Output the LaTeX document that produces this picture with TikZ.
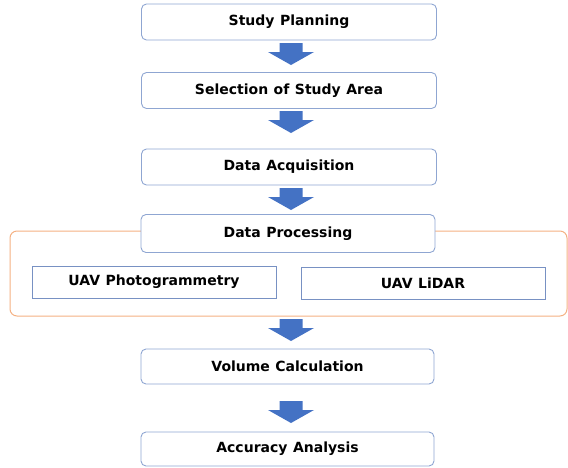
\documentclass[tikz,border=0pt]{standalone}
\usepackage{fontspec}
\setmainfont{DejaVu Sans}
\definecolor{boxline}{RGB}{143,166,210}
\definecolor{subline}{RGB}{120,145,195}
\definecolor{orangeline}{RGB}{244,177,131}
\definecolor{arrowblue}{RGB}{68,114,196}
\newcommand{\boxfont}{\fontsize{14pt}{16pt}\selectfont\bfseries\spaceskip=5.5pt plus 1pt}
\begin{document}
\begin{tikzpicture}[x=1pt,y=-1pt,
  stepbox/.style={draw=boxline, line width=0.9pt, rounded corners=5pt, fill=white,
    minimum width=295pt, minimum height=36pt, inner sep=0pt, font=\boxfont},
  subbox/.style={draw=subline, line width=1pt, fill=white,
    minimum width=244pt, minimum height=32pt, inner sep=0pt, font=\boxfont},
  groupbox/.style={draw=orangeline, line width=1pt, rounded corners=7pt},
  blockarr/.pic={\fill[arrowblue] (-11.5,0) -- (11.5,0) -- (11.5,9) -- (23,9) -- (0,22) -- (-23,9) -- (-11.5,9) -- cycle;}
]
\useasboundingbox (0,0) rectangle (568,467);
% group box
\node[groupbox, minimum width=557pt, minimum height=85pt, inner sep=0pt] (grp) at (288.5,273.5) {};
% steps
\node[stepbox] (s1) at (289,22) {Study Planning};
\node[stepbox] (s2) at (289,90.5) {Selection of Study Area};
\node[stepbox] (s3) at (289,167) {Data Acquisition};
\node[stepbox, minimum width=294pt, minimum height=38pt] (s4) at (288,233.5) {Data Processing};
\node[subbox] (p1) at (154,282) {UAV Photogrammetry};
\node[subbox] (p2) at (423,283) {UAV LiDAR};
\node[stepbox, minimum width=293pt, minimum height=35pt] (s5) at (287.5,366.5) {Volume Calculation};
\node[stepbox, minimum width=293pt, minimum height=34pt] (s6) at (287.5,449) {Accuracy Analysis};
% arrows
\coordinate (a1) at (291,43);
\coordinate (a2) at (291,111);
\coordinate (a3) at (291,188);
\coordinate (a4) at (291,319);
\coordinate (a5) at (291,401);
\foreach \c in {a1,a2,a3,a4,a5} \pic at (\c) {blockarr};
\end{tikzpicture}
\end{document}
